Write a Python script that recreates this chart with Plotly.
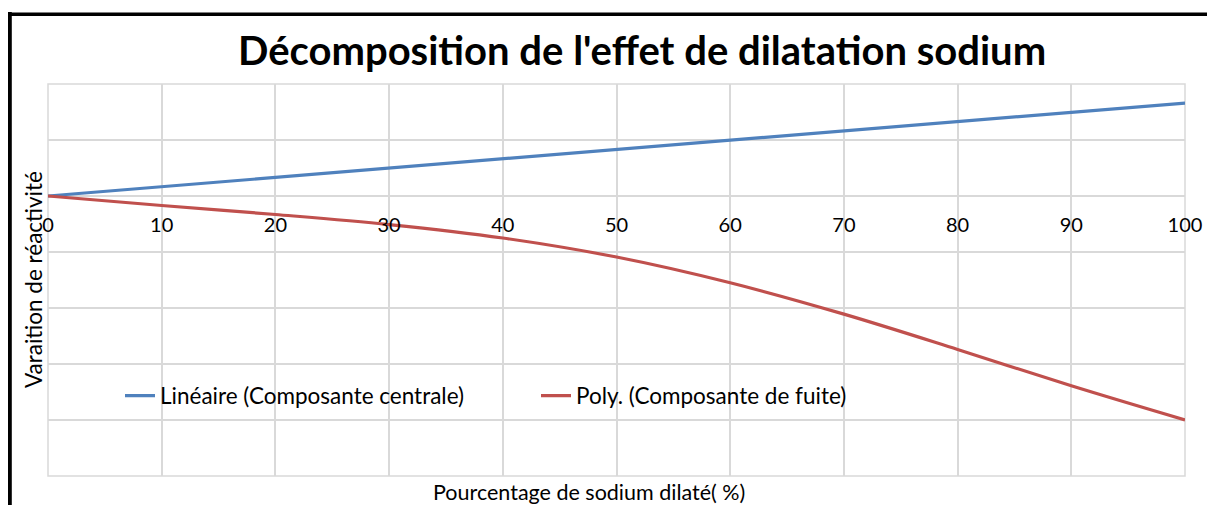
import plotly.graph_objects as go

# ---- data ----
x_vals = [0, 10, 20, 30, 40, 50, 60, 70, 80, 90, 100]
lin_central = [0.0, 0.166, 0.332, 0.498, 0.664, 0.83, 0.996, 1.162, 1.328, 1.494, 1.66]
poly_fuite = [0.0, -0.17, -0.33, -0.51, -0.75, -1.09, -1.55, -2.11, -2.74, -3.39, -4.0]
x_ticks = [0, 10, 20, 30, 40, 50, 60, 70, 80, 90, 100]
x_tick_labels = [str(v) for v in x_ticks]
name_lin = "Linéaire (Composante centrale)"
name_poly = "Poly. (Composante de fuite)"
title_text = "Décomposition de l'effet de dilatation sodium"
x_title = "Pourcentage de sodium dilaté( %)"
y_title = "Varaition de réactivité"

# page body has an 8px margin: figure is drawn offset by (8, 8)
OFF = 8
W, H = 1215 - OFF, 505 - OFF
# plot area in reference pixels: x 48..1185, y 84..476
L, T = 48 - OFF, 84 - OFF
R, B = W - (1185 - OFF), H - (476 - OFF)
PW, PH = W - L - R, H - T - B


def px_x(px):
    return (px - OFF - L) / PW


def px_y(py):
    return (T + PH - (py - OFF)) / PH


FONT = "Lato"
GRID = "#d9d9d9"

fig = go.Figure()
fig.add_trace(go.Scatter(x=x_vals, y=lin_central, mode="lines", name=name_lin,
                         line=dict(color="#4f81bd", width=3.2)))
fig.add_trace(go.Scatter(x=x_vals, y=poly_fuite, mode="lines", name=name_poly,
                         line=dict(color="#c0504d", width=3.2, shape="spline", smoothing=1.0)))

fig.update_layout(
    width=W, height=H,
    margin=dict(l=L, r=R, t=T, b=B),
    paper_bgcolor="white", plot_bgcolor="white",
    font=dict(family=FONT, color="black", size=20),
    showlegend=True,
    legend=dict(orientation="h", x=px_x(120), y=px_y(396), xanchor="left", yanchor="middle",
                bgcolor="rgba(0,0,0,0)", font=dict(size=22.5, family=FONT),
                entrywidth=371, entrywidthmode="pixels"),
    xaxis=dict(range=[0, 100], tickvals=x_ticks, ticktext=x_tick_labels,
               showgrid=True, gridcolor=GRID, gridwidth=1.5, zeroline=False,
               showline=False,
               anchor="free", position=px_y(211), ticks="",
               tickfont=dict(size=20, family=FONT)),
    yaxis=dict(range=[-5, 2], dtick=1, showticklabels=False,
               showgrid=True, gridcolor=GRID, gridwidth=1.5, zeroline=False,
               showline=False, ticks=""),
    annotations=[
        dict(text="<b>" + title_text + "</b>", xref="paper", yref="paper",
             x=px_x(642), y=px_y(50), xanchor="center", yanchor="middle",
             showarrow=False, font=dict(size=40, family=FONT)),
        dict(text=x_title, xref="paper", yref="paper",
             x=px_x(589), y=px_y(492), xanchor="center", yanchor="middle",
             showarrow=False, font=dict(size=21.5, family=FONT)),
        dict(text=y_title, xref="paper", yref="paper", textangle=-90,
             x=px_x(33), y=px_y(280), xanchor="center", yanchor="middle",
             showarrow=False, font=dict(size=22.5, family=FONT)),
    ],
    shapes=[
        dict(type="rect", xref="paper", yref="paper", x0=0, x1=1, y0=0, y1=1,
             layer="below", line=dict(color=GRID, width=1.5)),
        dict(type="line", xref="paper", yref="paper", x0=px_x(9.3), x1=px_x(9.3),
             y0=px_y(12), y1=px_y(520), line=dict(color="black", width=5)),
        dict(type="line", xref="paper", yref="paper", x0=px_x(7), x1=px_x(1230),
             y0=px_y(14.2), y1=px_y(14.2), line=dict(color="black", width=3.5)),
    ],
)

fig.write_html("out.html")
